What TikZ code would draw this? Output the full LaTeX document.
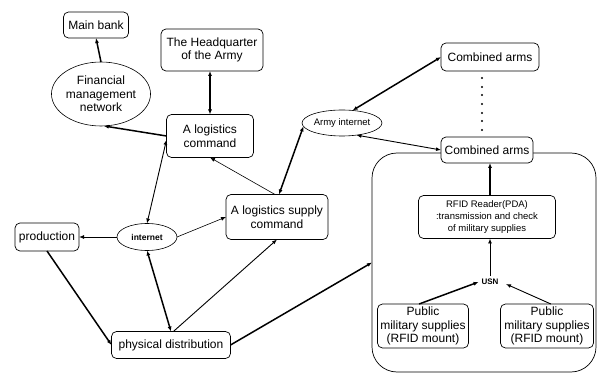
\documentclass[tikz,border=0pt]{standalone}
\usepackage{fontspec}
\setmainfont{Liberation Sans}
\usetikzlibrary{shapes.geometric,arrows.meta}
\begin{document}
\begin{tikzpicture}[x=1pt,y=-1pt,inner sep=0pt,outer sep=0pt,>={Latex[length=5pt,width=4pt]},
	infobox/.style={draw,rectangle,rounded corners=5pt,align=center,fill=white,line width=0.7pt,font=\fontsize{12}{13.5}\selectfont},
	netnode/.style={draw,ellipse,align=center,fill=white,line width=0.6pt},
	link/.style={line width=0.9pt},
	heavylink/.style={line width=1.5pt}]
	\useasboundingbox (0,0) rectangle (597,374);
	% the unit area round the RFID chain
	\draw (484,262.5) node[draw,rectangle,rounded corners=25pt,minimum width=224pt,minimum height=219pt,line width=0.7pt] (field) {};
	\draw (96,25) node[infobox,minimum width=65pt,minimum height=26pt] (bank) {Main bank};
	\draw (212,50) node[infobox,minimum width=102pt,minimum height=42pt] (hq) {The Headquarter\\of the Army};
	\draw (101,94) node[netnode,minimum width=87pt,minimum height=64pt,font=\fontsize{12}{13.5}\selectfont] (fin) {Financial\\management\\network};
	\draw (210,136) node[infobox,minimum width=87pt,minimum height=43pt] (logcmd) {A logistics\\command};
	\draw (342,123) node[netnode,minimum width=72pt,minimum height=26pt,font=\fontsize{9.5}{11}\selectfont] (army) {Army internet};
	\draw (490,57) node[infobox,minimum width=98pt,minimum height=28pt] (combtop) {Combined arms};
	\draw (487,150) node[infobox,minimum width=92pt,minimum height=26pt] (combbot) {Combined arms};
	\draw (277,217) node[infobox,minimum width=102pt,minimum height=45pt] (supply) {A logistics supply\\command};
	\draw (147,237) node[netnode,minimum width=60pt,minimum height=27pt,font=\bfseries\fontsize{8.5}{10}\selectfont] (inet) {internet};
	\draw (47,237) node[infobox,minimum width=64pt,minimum height=28pt] (prod) {production};
	\draw (171,345) node[infobox,minimum width=119pt,minimum height=27pt] (phys) {physical distribution};
	\draw (487,217) node[infobox,minimum width=137pt,minimum height=43pt,font=\fontsize{9.5}{12}\selectfont] (rfid) {RFID Reader(PDA)\\:transmission and check\\of military supplies};
	\draw (490,282) node[inner sep=3pt,font=\bfseries\fontsize{8}{9}\selectfont] (usn) {USN};
	\draw (423,326) node[infobox,minimum width=91pt,minimum height=44pt] (publeft) {Public\\military supplies\\(RFID mount)};
	\draw (547,326) node[infobox,minimum width=93pt,minimum height=44pt] (pubright) {Public\\military supplies\\(RFID mount)};
	% dotted column between the two units
	\foreach \dy in {78,87,95,104,113,121,130}
		\fill (482,\dy) circle (1.1pt);
	\draw[->,heavylink] (fin.north) -- (bank.south);
	\draw[<->,heavylink] (logcmd.north) -- (logcmd.north |- hq.south);
	\draw[->,heavylink] (logcmd.west) -- (fin.-85);
	\draw[<->,link] (inet.north) -- (logcmd.185);
	\draw[->,link,line width=0.6pt] (supply.95) -- (logcmd.south);
	\draw[<->,heavylink] (supply.85) -- (army.185);
	\draw[<->,heavylink] (army.50) -- (combtop.west);
	\draw[<->,link] (army.-40) -- (combbot.west);
	\draw[->,link] (inet.west) -- (prod.east);
	\draw[->,link,line width=0.6pt] (inet.east) -- (supply.west);
	\draw[<->,heavylink] (inet.south) -- (phys.north);
	\draw[->,heavylink] (prod.south) -- (phys.west);
	\draw[->,link] (phys.80) -- (supply.south);
	\draw[->,heavylink] (phys.east) -- (field.west);
	\draw[->,link] (usn.north) -- (usn.north |- rfid.south);
	\draw[->,heavylink] (usn.north |- rfid.north) -- (usn.north |- combbot.south);
	\draw[->,heavylink] (publeft.100) -- (usn.west);
	\draw[->,link,shorten >=5pt] (pubright.80) -- (usn.east);
\end{tikzpicture}
\end{document}
